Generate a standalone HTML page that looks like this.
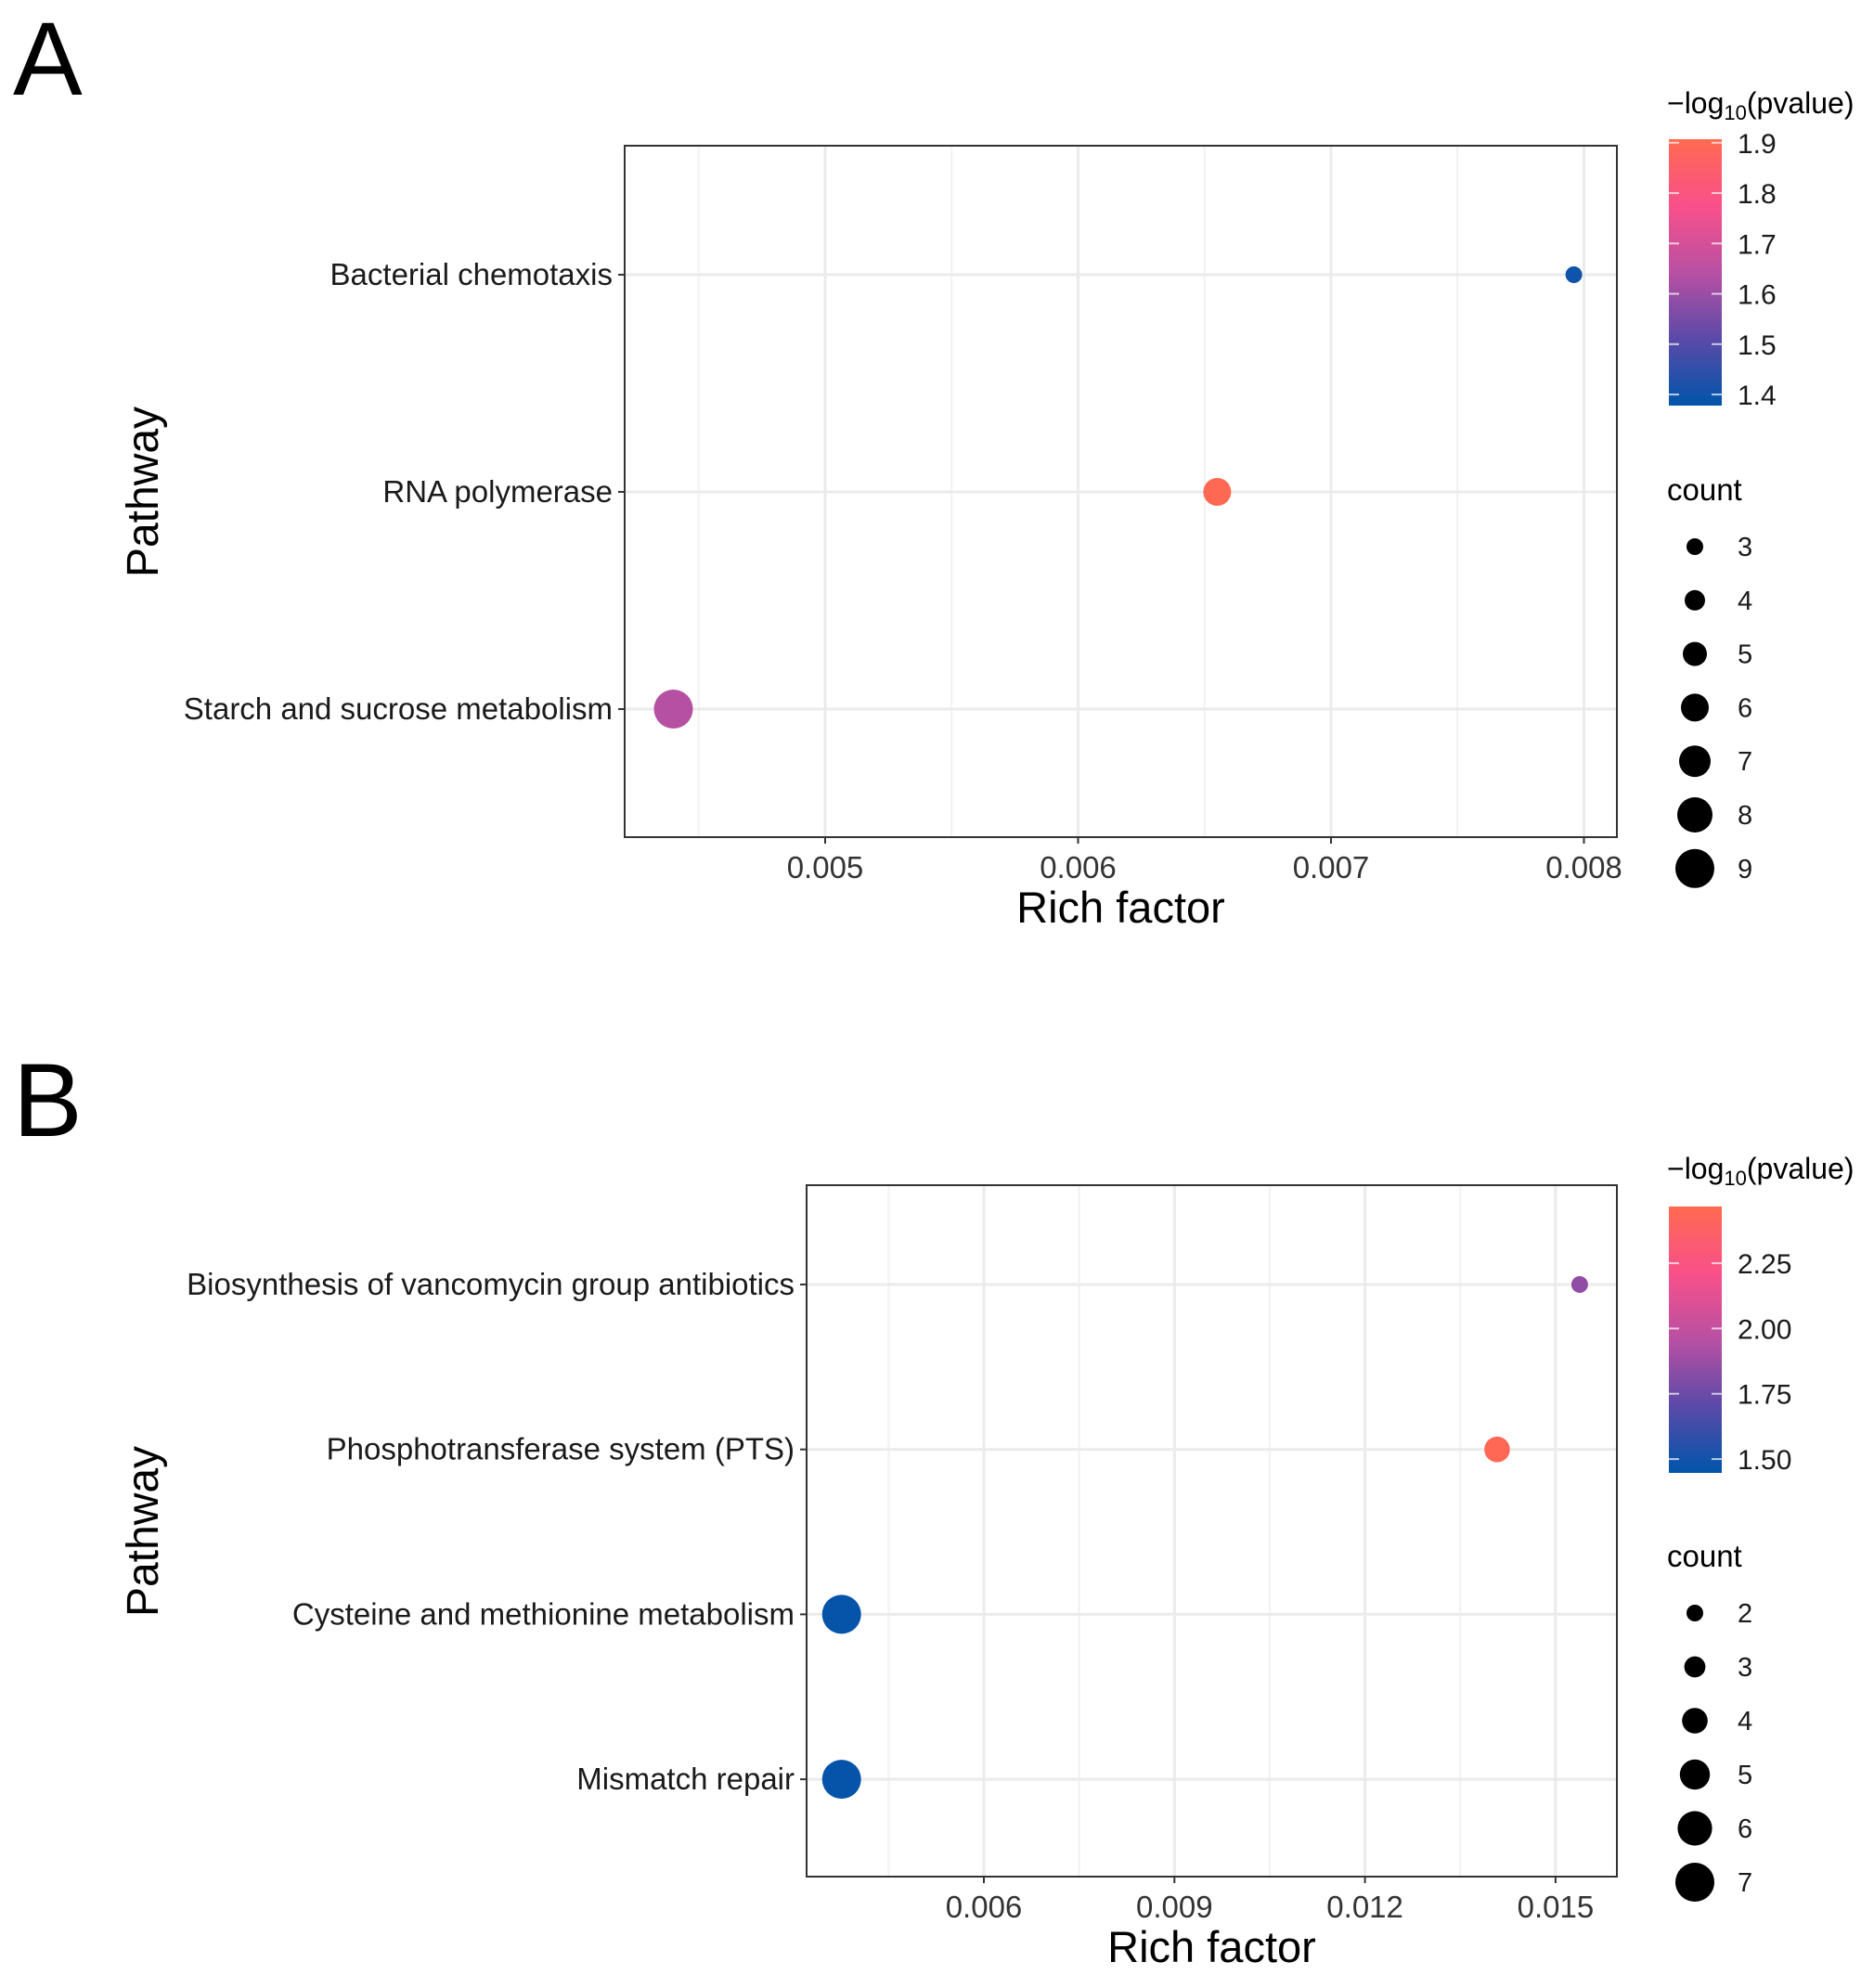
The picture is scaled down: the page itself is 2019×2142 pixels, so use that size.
<!DOCTYPE html>
<html><head><meta charset="utf-8"><style>
html,body{margin:0;padding:0;background:#fff}
svg{display:block;font-family:"Liberation Sans",Arial,sans-serif}
</style></head><body>
<svg id="fig" width="2019" height="2142" viewBox="0 0 2019 2142" xmlns="http://www.w3.org/2000/svg">
<defs>
<linearGradient id="cg" x1="0" y1="1" x2="0" y2="0">
<stop offset="0" stop-color="#0055aa"/><stop offset="0.25" stop-color="#5a4aa8"/><stop offset="0.5" stop-color="#b850a3"/><stop offset="0.75" stop-color="#f9508a"/><stop offset="1" stop-color="#ff6a50"/>
</linearGradient>
</defs>
</svg>
<script>
// Panel A data
const catsA = ["Bacterial chemotaxis","RNA polymerase","Starch and sucrose metabolism"];
const richA = [0.00796,0.00655,0.00440];
const pvalA = [1.40,1.90,1.64];
const countA = [3,6,9];
const xTicksA = [0.005,0.006,0.007,0.008];
const xTickLabelsA = ["0.005","0.006","0.007","0.008"];
const cbTicksA = [1.4,1.5,1.6,1.7,1.8,1.9];
const cbLabelsA = ["1.4","1.5","1.6","1.7","1.8","1.9"];
const sizeLegA = [3,4,5,6,7,8,9];
// Panel B data
const catsB = ["Biosynthesis of vancomycin group antibiotics","Phosphotransferase system (PTS)","Cysteine and methionine metabolism","Mismatch repair"];
const richB = [0.01538,0.01408,0.00376,0.00376];
const pvalB = [1.85,2.45,1.46,1.46];
const countB = [2,4,7,7];
const xTicksB = [0.006,0.009,0.012,0.015];
const xTickLabelsB = ["0.006","0.009","0.012","0.015"];
const cbTicksB = [1.5,1.75,2.0,2.25];
const cbLabelsB = ["1.50","1.75","2.00","2.25"];
const sizeLegB = [2,3,4,5,6,7];

const NS="http://www.w3.org/2000/svg";
const svg=document.getElementById('fig');
function mk(tag,attrs,parent,txt){const e=document.createElementNS(NS,tag);for(const k in attrs)e.setAttribute(k,attrs[k]);if(txt!==undefined)e.textContent=txt;(parent||svg).appendChild(e);return e;}
const stops=[[0,[0,85,170]],[0.25,[90,74,168]],[0.5,[184,80,163]],[0.75,[249,80,138]],[1,[255,106,80]]];
function col(t){t=Math.max(0,Math.min(1,t));for(let i=1;i<stops.length;i++){if(t<=stops[i][0]){const a=stops[i-1],b=stops[i];const f=(t-a[0])/(b[0]-a[0]);const c=a[1].map((v,j)=>Math.round(v+(b[1][j]-v)*f));return `rgb(${c})`;}}return 'rgb(255,106,80)';}

function panel(cfg){
 const g=mk('g',{});
 
 
 const {x0,x1,y0,y1}=cfg.box;
 const xs=v=>cfg.px0+(v-cfg.v0)*cfg.pxPer;
 const ys=i=>cfg.rowTop+i*cfg.rowStep;
 for(let k=0;k<cfg.xt.length+1;k++){const v=(k===0?cfg.xt[0]-cfg.tstep/2:cfg.xt[k-1]+cfg.tstep/2);const x=xs(v);if(x>x0&&x<x1){const l=mk('line',{x1:x,x2:x,y1:y0,y2:y1,stroke:'#f2f2f2','stroke-width':2},g);}}
 cfg.xt.forEach((v,i)=>{const x=xs(v);const l=mk('line',{x1:x,x2:x,y1:y0,y2:y1,stroke:'#ebebeb','stroke-width':3},g);
  const tk=mk('line',{x1:x,x2:x,y1:y1,y2:y1+7,stroke:'#333','stroke-width':2},g);
  const t=mk('text',{x:x,y:y1+44,'font-size':33,'text-anchor':'middle',fill:'#333'},g,cfg.xtl[i]);});
 cfg.cats.forEach((c,i)=>{const y=ys(i);const l=mk('line',{x1:x0,x2:x1,y1:y,y2:y,stroke:'#ebebeb','stroke-width':3},g);
  const tk=mk('line',{x1:x0-7,x2:x0,y1:y,y2:y,stroke:'#333','stroke-width':2},g);
  const t=mk('text',{x:x0-13,y:y+11,'font-size':33,'text-anchor':'end',fill:'#1a1a1a'},g,c);});
 const r=mk('rect',{x:x0,y:y0,width:x1-x0,height:y1-y0,fill:'none',stroke:'#333','stroke-width':2},g);
 const rs=c=>cfg.rmin+(c-cfg.cmin)*(cfg.rmax-cfg.rmin)/(cfg.cmax-cfg.cmin);
 const cs=p=>(p-cfg.pbot)/(cfg.ptop-cfg.pbot);
 cfg.cats.forEach((c,i)=>{const p=mk('circle',{cx:xs(cfg.rich[i]),cy:ys(i),r:rs(cfg.count[i]),fill:col(cs(cfg.pval[i]))},g);});
 const xt=mk('text',{x:(x0+x1)/2,y:cfg.xtitleY,'font-size':47,'text-anchor':'middle',fill:'#000'},g,'Rich factor');
 const yt=mk('text',{x:0,y:0,'font-size':48,'text-anchor':'middle',fill:'#000',transform:`translate(170,${cfg.ytitleY}) rotate(-90)`},g,'Pathway');
 const pl=mk('text',{x:14,y:cfg.labelY,'font-size':112,fill:'#000'},g,cfg.label);
 const lt=mk('text',{x:1796,y:cfg.cbTitleY,'font-size':32,fill:'#000'},g);
 mk('tspan',{},lt,'\u2212log');mk('tspan',{'font-size':22,dy:7},lt,'10');mk('tspan',{dy:-7},lt,'(pvalue)');
 const cb=mk('rect',{x:1798,y:cfg.cbTop,width:57,height:cfg.cbBot-cfg.cbTop,fill:'url(#cg)'},g);
 const cy=p=>cfg.cbBot-(p-cfg.pbot)/(cfg.ptop-cfg.pbot)*(cfg.cbBot-cfg.cbTop);
 cfg.cbt.forEach((v,i)=>{const y=cy(v);mk('line',{x1:1798,x2:1809,y1:y,y2:y,stroke:'#fff','stroke-width':2,opacity:0.7},g);mk('line',{x1:1844,x2:1855,y1:y,y2:y,stroke:'#fff','stroke-width':2,opacity:0.7},g);
  const t=mk('text',{x:1872,y:y+11,'font-size':30,fill:'#1a1a1a'},g,cfg.cbl[i]);});
 const ct=mk('text',{x:1796,y:cfg.countTitleY,'font-size':33,fill:'#000'},g,'count');
 cfg.sleg.forEach((c,i)=>{const y=cfg.sTop+i*cfg.sStep;const d=mk('circle',{cx:1826,cy:y,r:rs(c),fill:'#000'},g);
  const t=mk('text',{x:1872,y:y+10,'font-size':29,fill:'#1a1a1a'},g,String(c));});
}
panel({name:'panel-a',label:'A',labelY:102,box:{x0:673,x1:1742,y0:157,y1:902},px0:889,v0:0.005,pxPer:272500,tstep:0.001,
 xt:xTicksA,xtl:xTickLabelsA,cats:catsA,rich:richA,pval:pvalA,count:countA,rowTop:296,rowStep:234,
 rmin:9,rmax:21,cmin:3,cmax:9,pbot:1.378,ptop:1.907,xtitleY:994,ytitleY:530,
 cbTitleY:122,cbTop:150,cbBot:437,cbt:cbTicksA,cbl:cbLabelsA,countTitleY:539,sleg:sizeLegA,sTop:589,sStep:57.8});
panel({name:'panel-b',label:'B',labelY:1224,box:{x0:869,x1:1742,y0:1277,y1:2022},px0:1060,v0:0.006,pxPer:68433,tstep:0.003,
 xt:xTicksB,xtl:xTickLabelsB,cats:catsB,rich:richB,pval:pvalB,count:countB,rowTop:1384,rowStep:177.7,
 rmin:9,rmax:21,cmin:2,cmax:7,pbot:1.447,ptop:2.467,xtitleY:2114,ytitleY:1650,
 cbTitleY:1270,cbTop:1300,cbBot:1587,cbt:cbTicksB,cbl:cbLabelsB,countTitleY:1688,sleg:sizeLegB,sTop:1738,sStep:58});
</script>
</body></html>
